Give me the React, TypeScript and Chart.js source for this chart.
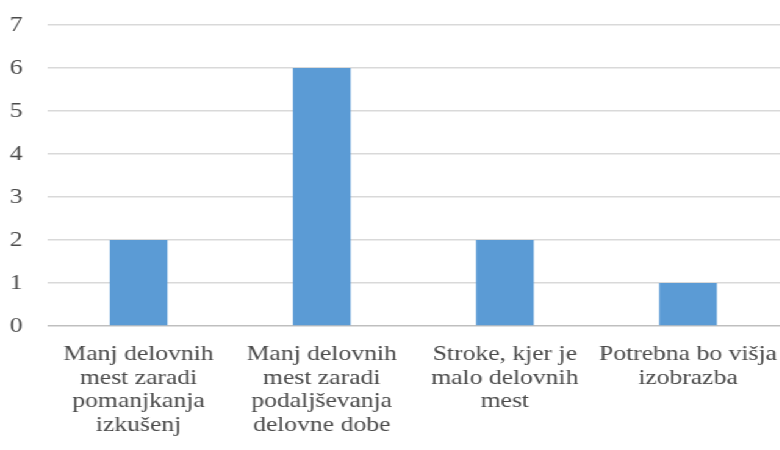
import React, { useEffect, useRef } from "react";
import { Chart, registerables } from "chart.js";

Chart.register(...registerables);

const categories: string[][] = [
  ["Manj delovnih", "mest zaradi", "pomanjkanja", "izkušenj"],
  ["Manj delovnih", "mest zaradi", "podaljševanja", "delovne dobe"],
  ["Stroke, kjer je", "malo delovnih", "mest"],
  ["Potrebna bo višja", "izobrazba"],
];
const values: number[] = [2, 6, 2, 1];
const yMin = 0;
const yMax = 7;
const yStep = 1;

const STRETCH = 1.22;
const W = 780 / STRETCH;
const H = 450;
const FAMILY = "'Liberation Serif', 'Times New Roman', Times, serif";

export default function App() {
  const ref = useRef<HTMLCanvasElement | null>(null);
  useEffect(() => {
    if (!ref.current) return;
    const font = { family: FAMILY, size: 21, lineHeight: 1.12 };
    const chart = new Chart(ref.current, {
      type: "bar",
      data: {
        labels: categories,
        datasets: [
          {
            data: values,
            backgroundColor: "#5B9BD5",
            borderWidth: 0,
            categoryPercentage: 1,
            barPercentage: 0.315,
          },
        ],
      },
      options: {
        responsive: false,
        animation: false,
        devicePixelRatio: 1,
        layout: { padding: { top: 25, right: 0, bottom: 0, left: 0 } },
        plugins: { legend: { display: false }, tooltip: { enabled: false } },
        scales: {
          x: {
            grid: { display: false, drawTicks: false },
            border: { display: false },
            ticks: { color: "#4a4a4a", font, padding: 17, maxRotation: 0, autoSkip: false },
            afterFit: (s: any) => {
              s.height = 124;
              s.paddingLeft = 0;
              s.paddingRight = 0;
            },
          },
          y: {
            min: yMin,
            max: yMax,
            grid: {
              drawTicks: false,
              color: (ctx: any) => (ctx.tick && ctx.tick.value === 0 ? "#bfbfbf" : "#d9d9d9"),
              lineWidth: 1.5,
            },
            border: { display: false },
            ticks: { stepSize: yStep, color: "#4a4a4a", font, padding: 20 },
            afterFit: (s: any) => {
              s.width = 47 / STRETCH;
              s.paddingTop = 0;
              s.paddingBottom = 0;
            },
          },
        },
      },
    } as any);
    return () => chart.destroy();
  }, []);
  return (
    <div
      style={{
        position: "fixed",
        left: 0,
        top: 0,
        width: W,
        height: H,
        transform: `scaleX(${STRETCH})`,
        transformOrigin: "0 0",
        background: "#fff",
      }}
    >
      <canvas ref={ref} width={W} height={H} style={{ display: "block" }} />
    </div>
  );
}
